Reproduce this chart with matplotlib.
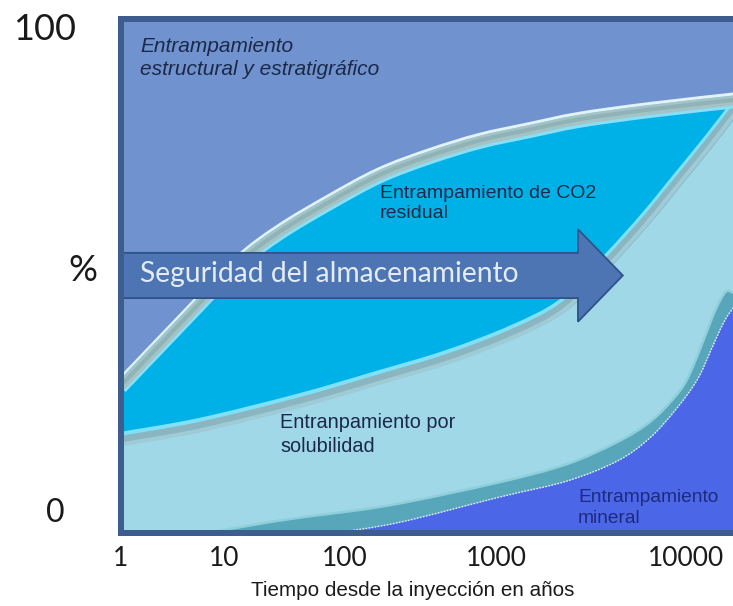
import matplotlib
matplotlib.use("Agg")
import numpy as np
import matplotlib.pyplot as plt
from matplotlib.patches import PathPatch, FancyArrow
from matplotlib.path import Path
from matplotlib.transforms import offset_copy

# ---------------- data (schematic) ----------------
# x: horizontal position in % of plot width, y: share in %
xtick_pos = [0, 16.7, 36.4, 61.1, 91.9]
xtick_labels = ["1", "10", "100", "1000", "10000"]

# boundary structural/stratigraphic  <->  residual CO2 (centre of band)
struct_x = [0, 10.7, 19.3, 25.9, 34.0, 42.1, 50.2, 58.4, 66.5, 74.6, 86.0, 100]
struct_y = [28.6, 42.0, 52.6, 58.6, 64.4, 69.6, 73.3, 76.3, 78.4, 80.4, 82.3, 84.2]

# boundary residual CO2  <->  solubility
resid_x = [0, 12.8, 29.1, 42.1, 53.0, 63.7, 71.9, 79.0, 85.5, 90.9, 95.8, 100]
resid_y = [19.3, 22.0, 26.8, 31.3, 35.2, 40.1, 45.3, 53.7, 62.3, 70.2, 77.4, 83.9]

# upper edge of the band above mineral trapping
band_x = [14.0, 22.6, 29.1, 43.7, 61.6, 72.5, 80.7, 86.0, 89.8, 92.0, 94.1, 96.1, 97.4, 98.5, 99.5]
band_y = [0.0, 1.8, 3.0, 5.4, 9.9, 13.4, 17.7, 21.6, 26.1, 29.8, 35.6, 41.8, 45.2, 47.1, 46.7]

# boundary solubility  <->  mineral trapping
mineral_x = [34.8, 45.4, 61.6, 72.5, 80.7, 86.0, 90.4, 93.7, 95.8, 97.4, 98.7, 100]
mineral_y = [0.0, 2.1, 7.0, 10.1, 14.0, 18.5, 24.3, 29.8, 35.2, 39.5, 42.4, 44.4]

# ---------------- styling ----------------
TOP = "#7093cf"
RESID = "#00b1e7"
SOLUB = "#a0d8e8"
MINERAL = "#4b66e6"
FRAME = "#3d5d8e"
LABEL = "#1b2848"

def px(v):
    return v * 72 / 100.0

def smooth(xs, ys):
    """Catmull-Rom curve through the points as cubic Bezier segments."""
    p = np.column_stack([xs, ys]).astype(float)
    n = len(p)
    verts = [p[0]]
    codes = [Path.MOVETO]
    for i in range(n - 1):
        a = p[i - 1] if i > 0 else p[i]
        d = p[i + 2] if i + 2 < n else p[i + 1]
        c1 = p[i] + (p[i + 1] - a) / 6.0
        c2 = p[i + 1] - (d - p[i]) / 6.0
        verts += [c1, c2, p[i + 1]]
        codes += [Path.CURVE4] * 3
    return verts, codes

def region(xs, ys, tail):
    v, c = smooth(xs, ys)
    for t in tail:
        v.append(t)
        c.append(Path.LINETO)
    v.append(v[0])
    c.append(Path.CLOSEPOLY)
    return Path(v, c)

def between(xa, ya, xb, yb):
    v1, c1 = smooth(xa, ya)
    v2, c2 = smooth(xb[::-1], yb[::-1])
    c2[0] = Path.LINETO
    v = v1 + v2 + [v1[0]]
    c = c1 + c2 + [Path.CLOSEPOLY]
    return Path(v, c)

fig = plt.figure(figsize=(7.33, 6.06), dpi=100)
ax = fig.add_axes([121 / 733, 1 - 533 / 606, 615 / 733, 514 / 606])
ax.set_xlim(0, 100)
ax.set_ylim(0, 100)
ax.set_facecolor(TOP)

def off(dy):
    return offset_copy(ax.transData, fig=fig, x=0, y=dy, units="dots")

def curve(xs, ys, color, lw, dy=0, z=2, **extra):
    v, c = smooth(xs, ys)
    ax.add_patch(PathPatch(Path(v, c), fill=False, ec=color, lw=px(lw),
                           capstyle="butt", joinstyle="round",
                           transform=off(dy), zorder=z, **extra))

# filled regions
ax.add_patch(PathPatch(region(struct_x, struct_y, [(100, 0), (0, 0)]),
                       fc=RESID, ec="none", zorder=1))
ax.add_patch(PathPatch(region(resid_x, resid_y, [(100, 0), (0, 0)]),
                       fc=SOLUB, ec="none", zorder=1.1))
ax.add_patch(PathPatch(region(mineral_x, mineral_y, [(100, 0)]),
                       fc=MINERAL, ec="none", zorder=1.2))
ax.add_patch(PathPatch(between(band_x, band_y, mineral_x, mineral_y),
                       fc="#58a6ba", ec="none", zorder=1.3))
curve(band_x, band_y, "#8fcfdb", 2.5, z=1.35)
curve(mineral_x, mineral_y, "#e8eefc", 1.4, z=1.35, linestyle=(0, (1.2, 1.0)))

# band below the residual/solubility boundary
curve(resid_x, resid_y, "#80e0f6", 13, dy=-4.5, z=1.5)
curve(resid_x, resid_y, "#8ab5c1", 10, dy=-7, z=1.55)
curve(resid_x, resid_y, "#9fcbd6", 4, dy=-10.5, z=1.6)

# band on the structural/residual boundary
curve(struct_x, struct_y, "#e2f2f7", 13, dy=1.5, z=1.7)
curve(struct_x, struct_y, "#88e0f6", 13, dy=-1.5, z=1.75)
curve(struct_x, struct_y, "#a3c3c6", 10, z=1.8)
curve(struct_x, struct_y, "#8fb3b7", 4, dy=0.5, z=1.85)

# arrow
arrow = FancyArrow(0, 50.1, 81.6, 0, width=8.8, head_width=18, head_length=7.3,
                   length_includes_head=True, fc="#4d74b3", ec="#2f5288", lw=px(1.8), zorder=3)
ax.add_patch(arrow)
ax.text(3.1, 50.4, "Seguridad del almacenamiento", color="#e3ecf7", fontsize=20.3,
        family="Lato", va="center", ha="left", zorder=4)

# region labels
ax.text(3.1, 96.5, "Entrampamiento\nestructural y estratigráfico", style="italic",
        family="Liberation Sans", fontsize=15, color=LABEL, va="top", ha="left",
        linespacing=1.25, zorder=4)
ax.text(42.1, 67.8, "Entrampamiento de CO2\nresidual", family="Liberation Sans",
        fontsize=14, color=LABEL, va="top", ha="left", linespacing=1.25, zorder=4)
ax.text(25.9, 23.4, "Entranpamiento por\nsolubilidad", family="Liberation Sans",
        fontsize=14.3, color=LABEL, va="top", ha="left", linespacing=1.35, zorder=4)
ax.text(74.3, 8.6, "Entrampamiento\nmineral", family="Liberation Sans",
        fontsize=13.8, color="#1c2a80", va="top", ha="left", linespacing=1.3, zorder=4)

# frame
for s in ["left", "top", "bottom"]:
    ax.spines[s].set_color(FRAME)
    ax.spines[s].set_linewidth(px(6))
    ax.spines[s].set_zorder(10)
ax.spines["right"].set_visible(False)

# axes labels
ax.set_yticks([])
ax.set_xticks(xtick_pos)
ax.set_xticklabels(xtick_labels, family="Lato", fontsize=19, color="#1a1a1a")
ax.tick_params(axis="x", length=0, pad=9)

ax.text(-12.5, 98.0, "100", family="Lato", fontsize=26, color="#1a1a1a",
        ha="center", va="center", clip_on=False)
ax.text(-6.2, 51.0, "%", family="Lato", fontsize=26, color="#1a1a1a",
        ha="center", va="center", clip_on=False)
ax.text(-10.7, 3.9, "0", family="Lato", fontsize=23, color="#1a1a1a",
        ha="center", va="center", clip_on=False)
ax.text(47.5, -11.1, "Tiempo desde la inyección en años", family="Liberation Sans",
        fontsize=14.9, color="#1a1a1a", ha="center", va="center", clip_on=False)

fig.savefig("out.png", dpi=100)
